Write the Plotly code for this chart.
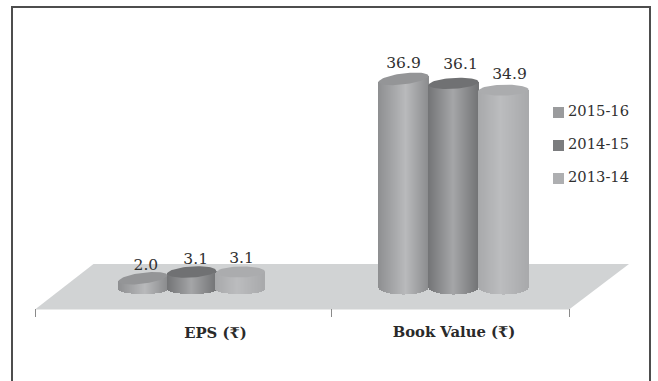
import numpy as np
import plotly.graph_objects as go

# Chart data
categories = ["EPS (₹)", "Book Value (₹)"]
series_names = ["2015-16", "2014-15", "2013-14"]
values_2015_16 = [2.0, 36.9]
values_2014_15 = [3.1, 36.1]
values_2013_14 = [3.1, 34.9]

# Drawing setup (layout units are screen pixels on x, value units on y)
W, H = 658, 381
ZERO_PX, PX_PER_UNIT = 287.0, 5.64
px = lambda p: p / PX_PER_UNIT
y_of = lambda row: (ZERO_PX - row) / PX_PER_UNIT

GROUP_LEFT = [118.5, 378.5]
CYL_WIDTH = [48.8, 50.0]
GROUP_DROP = [2.5, 0.0]
BOTTOM_RY = [4.5, 7.5]
TOP_RY = 5.5
TILT_PX = [6.0, 3.0, 1.0]
SWATCH = ["#9a9b9d", "#7b7c7e", "#aeafb1"]
TOP_FILL = ["#949597", "#707173", "#abacae"]
STOPS = [
    [(0, "#8e8f91"), (0.55, "#b9babc"), (1, "#8c8d8f")],
    [(0, "#737476"), (0.5, "#a5a6a8"), (1, "#747577")],
    [(0, "#a8a9ab"), (0.45, "#bcbdbf"), (1, "#a9aaac")],
]
LABEL_DX = [[3, 4, 1], [0, 7, 6]]
LABEL_DY = [[12, 12, 12.5], [15, 18.5, 15]]
TEXT = "#303030"
FONT = "DejaVu Serif"


def shade(stops, t):
    pos = [s[0] for s in stops]
    rgb = [[int(s[1][i:i + 2], 16) for i in (1, 3, 5)] for s in stops]
    return "rgb(%d,%d,%d)" % tuple(np.interp(t, pos, [c[k] for c in rgb]) for k in range(3))


fig = go.Figure()
series_values = [values_2015_16, values_2014_15, values_2013_14]

for g in range(len(categories)):
    w = CYL_WIDTH[g]
    drop = px(GROUP_DROP[g])
    for s, vals in enumerate(series_values):
        left = GROUP_LEFT[g] + s * w
        cx, rx = left + w / 2, w / 2
        xs = np.arange(left, left + w, 1.0) + 0.5
        u = (xs - cx) / rx
        arc = np.sqrt(np.clip(1 - u ** 2, 0, 1))
        slope = px(TILT_PX[s]) * u / 2
        base = -drop - px(BOTTOM_RY[g]) * arc
        top = vals[g] - drop + slope

        # Cylinder body: one narrow shaded bar per pixel column
        fig.add_trace(go.Bar(
            x=xs, base=base, y=top - base, width=1.4,
            marker=dict(color=[shade(STOPS[s], (x - left) / w) for x in xs], line_width=0),
            hoverinfo="skip", showlegend=False,
        ))

        # Cylinder cap
        a = np.linspace(0, 2 * np.pi, 73)
        cu = np.cos(a)
        fig.add_trace(go.Scatter(
            x=cx + rx * cu,
            y=vals[g] - drop + px(TILT_PX[s]) * cu / 2 + px(TOP_RY) * np.sin(a),
            mode="lines", fill="toself", fillcolor=TOP_FILL[s],
            line=dict(width=0), hoverinfo="skip", showlegend=False,
        ))

        # Value label
        fig.add_trace(go.Scatter(
            x=[cx + LABEL_DX[g][s]], y=[vals[g] - drop + px(LABEL_DY[g][s])],
            mode="text", text=[f"{vals[g]:.1f}"], textposition="middle center",
            textfont=dict(family=FONT, size=15.5, color=TEXT),
            hoverinfo="skip", showlegend=False,
        ))

# Legend entries
for s, name in enumerate(series_names):
    row = y_of(112.5 + 33 * s)
    fig.add_trace(go.Scatter(
        x=[558.5], y=[row], mode="markers",
        marker=dict(symbol="square", size=11, color=SWATCH[s], line_width=0),
        name=name, hoverinfo="skip", showlegend=False,
    ))
    fig.add_trace(go.Scatter(
        x=[568], y=[row], mode="text",
        text=[name], textposition="middle right",
        textfont=dict(family=FONT, size=14.7, color=TEXT),
        hoverinfo="skip", showlegend=False,
    ))

# Category labels
fig.add_trace(go.Scatter(
    x=[215.5, 454], y=[y_of(334.5), y_of(333.5)], mode="text",
    text=[f"<b>{c}</b>" for c in categories], textposition="middle center",
    textfont=dict(family=FONT, size=14.8, color="#2a2a2a"),
    hoverinfo="skip", showlegend=False,
))

# Floor plane, axis ticks and outer frame
shapes = [dict(
    type="path", layer="below", line_width=0, fillcolor="#d1d3d4",
    path=f"M 35 {y_of(309.5)} L 93.5 {y_of(264)} L 629 {y_of(264)} L 569 {y_of(309.5)} Z",
)]
for tx in (35.5, 331.5, 569.5):
    shapes.append(dict(type="line", layer="below", x0=tx, x1=tx, y0=y_of(309), y1=y_of(317),
                       line=dict(color="#8a8a8a", width=1)))
shapes.append(dict(
    type="path", layer="below", fillcolor="rgba(0,0,0,0)", line=dict(color="#4d4d4d", width=2),
    path=f"M 12 {y_of(385)} L 12 {y_of(7)} L 650 {y_of(7)} L 650 {y_of(385)}",
))

fig.update_layout(
    width=W, height=H, margin=dict(l=0, r=0, t=0, b=0),
    paper_bgcolor="white", plot_bgcolor="white",
    barmode="overlay", bargap=0, showlegend=False, shapes=shapes,
    xaxis=dict(range=[0, W], visible=False, fixedrange=True),
    yaxis=dict(range=[y_of(H), y_of(0)], visible=False, fixedrange=True),
)

fig.write_html("out.html", config={"displayModeBar": False})
